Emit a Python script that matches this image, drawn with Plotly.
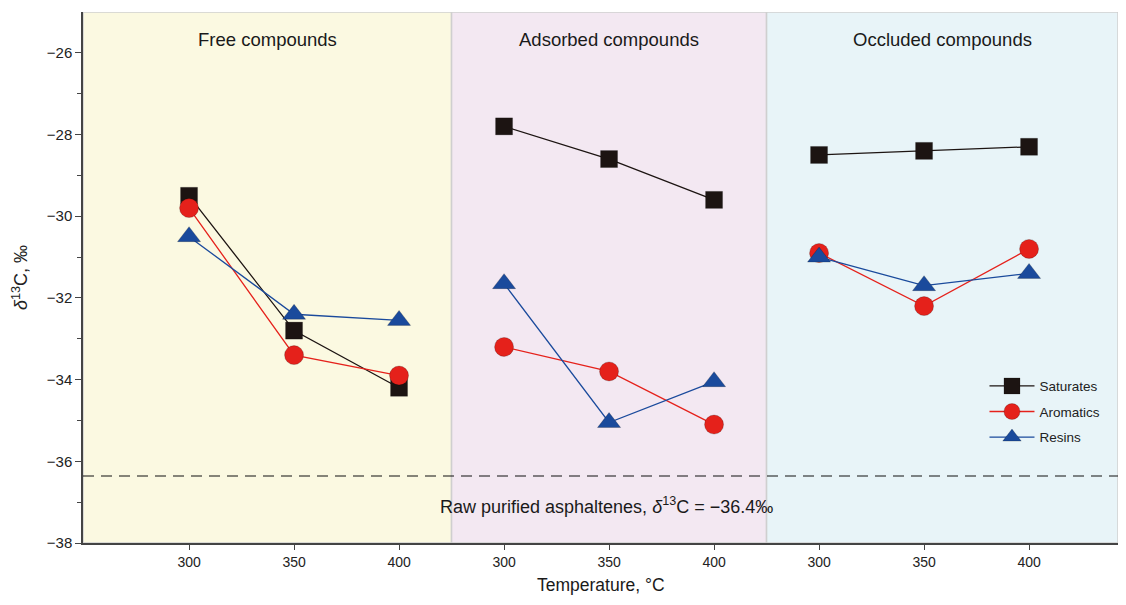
import plotly.graph_objects as go

temperatures = [300, 350, 400]
panels = ["Free compounds", "Adsorbed compounds", "Occluded compounds"]
saturates = [[-29.5, -32.8, -34.2], [-27.8, -28.6, -29.6], [-28.5, -28.4, -28.3]]
aromatics = [[-29.8, -33.4, -33.9], [-33.2, -33.8, -35.1], [-30.9, -32.2, -30.8]]
resins = [[-30.5, -32.4, -32.55], [-31.65, -35.05, -34.05], [-31.0, -31.7, -31.4]]
raw_asphaltenes = -36.36

panel_colors = ["#fbf9e1", "#f3e8f2", "#e8f4f8"]

def build_xy(series):
    xs, ys = [], []
    for p, vals in enumerate(series):
        for i, v in enumerate(vals):
            xs.append(p * 3 + i)
            ys.append(v)
        xs.append(None)
        ys.append(None)
    return xs, ys

fig = go.Figure()

specs = [
    ("Saturates", saturates, "#1c1412", "square", 17),
    ("Aromatics", aromatics, "#e5211b", "circle", 19),
    ("Resins", resins, "#1a4a9c", "triangle-up", 20),
]
for name, data, color, sym, size in specs:
    xs, ys = build_xy(data)
    fig.add_trace(go.Scatter(
        x=xs, y=ys, name=name, legendgroup=name, mode="lines+markers",
        line=dict(color=color, width=1.3),
        marker=dict(symbol=sym, size=size, color=color,
                    line=dict(width=0.5, color="rgba(0,0,0,0.4)")),
        connectgaps=False,
    ))

# plot area: 83..1118 px wide at 105 px per category step
xmin, xmax = -1.01, 8.847
bounds = [xmin, 2.5, 5.5, xmax]
shapes = []
for p in range(3):
    shapes.append(dict(type="rect", xref="x", yref="y", x0=bounds[p], x1=bounds[p + 1],
                       y0=-38, y1=-25, fillcolor=panel_colors[p],
                       line=dict(color="#cfcfcf", width=1.5), layer="below"))
shapes.append(dict(type="line", xref="x", yref="y", x0=xmin, x1=xmax,
                   y0=raw_asphaltenes, y1=raw_asphaltenes,
                   line=dict(color="#111111", width=1.2, dash="11px,7px"), layer="above"))

annotations = []
for p, title in enumerate(panels):
    annotations.append(dict(x=(bounds[p] + bounds[p + 1]) / 2, y=-25.68, xref="x", yref="y",
                            text=title, showarrow=False,
                            font=dict(size=18.5, color="#1a1a1a")))
annotations.append(dict(x=3.98, y=-37.09, xref="x", yref="y",
                        text="Raw purified asphaltenes, <i>δ</i><sup>13</sup>C = −36.4‰",
                        showarrow=False, font=dict(size=18, color="#1a1a1a")))
annotations.append(dict(x=0.5, y=-0.079, xref="paper", yref="paper", yanchor="middle",
                        text="Temperature, °C", showarrow=False,
                        font=dict(size=17.5, color="#1a1a1a")))

tickvals = [p * 3 + i for p in range(3) for i in range(3)]
ticktext = [str(t) for p in range(3) for t in temperatures]

fig.update_layout(
    width=1110, height=589,
    margin=dict(l=75, r=0, t=4, b=54, autoexpand=False),
    paper_bgcolor="white", plot_bgcolor="white",
    font=dict(family="Liberation Sans, Arial, sans-serif", color="#222222", size=13),
    shapes=shapes, annotations=annotations,
    showlegend=True,
    legend=dict(x=0.871, y=0.3245, xanchor="left", yanchor="top",
                bgcolor="rgba(0,0,0,0)", font=dict(size=13.5), tracegroupgap=5,
                itemsizing="trace", itemwidth=45),
    xaxis=dict(range=[xmin, xmax], tickvals=tickvals, ticktext=ticktext,
               showgrid=False, zeroline=False, showline=True, linecolor="#444444",
               linewidth=1.5, ticks="outside", ticklen=5, tickcolor="#444444",
               tickfont=dict(size=14)),
    yaxis=dict(range=[-38, -25], tickvals=[-38, -36, -34, -32, -30, -28, -26],
               showgrid=False, zeroline=False, showline=True, linecolor="#444444",
               linewidth=1.5, ticks="outside", ticklen=6, tickcolor="#444444",
               tickfont=dict(size=15),
               minor=dict(tickvals=[-37, -35, -33, -31, -29, -27], ticks="outside",
                          ticklen=4, tickcolor="#444444"),
               title=dict(text="<i>δ</i><sup>13</sup>C, ‰", font=dict(size=18), standoff=14)),
)

fig.write_html("out.html")
